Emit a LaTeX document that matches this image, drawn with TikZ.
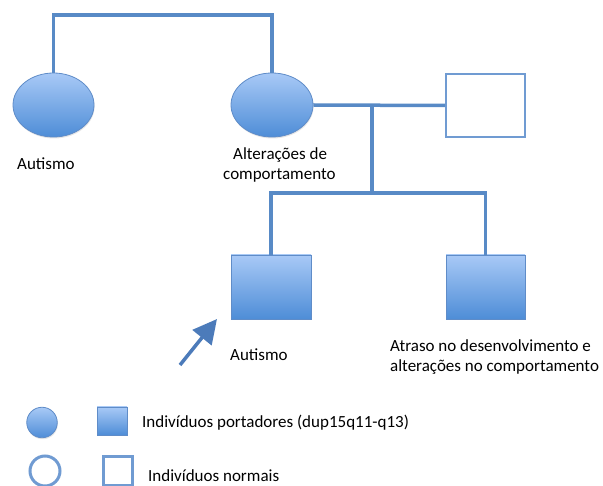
\documentclass[tikz,border=0pt]{standalone}
\usepackage{fontspec}
\setmainfont{Carlito}
\usetikzlibrary{shapes.geometric,arrows.meta,shadows}
\definecolor{lineblue}{RGB}{88,138,198}
\definecolor{edgeblue}{RGB}{95,140,200}
\definecolor{topfill}{RGB}{168,201,246}
\definecolor{botfill}{RGB}{78,141,215}
\definecolor{openblue}{RGB}{112,155,210}
\definecolor{arrowblue}{RGB}{76,123,186}
\tikzset{
  conn/.style={draw=lineblue, line width=3.5pt},
  carrier/.style={draw=edgeblue, line width=0.8pt, top color=topfill, bottom color=botfill,
    drop shadow={opacity=0.2, shadow xshift=0.6pt, shadow yshift=-1.5pt}},
  fem/.style={carrier, ellipse, inner sep=0pt},
  male/.style={carrier, rectangle, inner sep=0pt},
  openbox/.style={draw=openblue, line width=2pt, fill=white, rectangle, inner sep=0pt},
  legopen/.style={draw=openblue, line width=3pt, fill=white, inner sep=0pt},
  lbl/.style={inner sep=0pt, font=\fontsize{17}{20.5}\selectfont, align=left},
}
\begin{document}
\begin{tikzpicture}[x=1pt,y=-1pt]
\useasboundingbox (0,0) rectangle (603,486);
% top generation
\node[fem, minimum width=81pt, minimum height=64pt] (e1) at (53.5,105) {};
\node[fem, minimum width=82pt, minimum height=64pt] (e2) at (272,105) {};
\node[openbox, minimum width=79pt, minimum height=63pt] (sq0) at (485.5,105.5) {};
\coordinate (top) at (160,15);
\coordinate (m) at (372,105);
\coordinate (sib) at (372,193);
% children
\node[male, minimum width=80pt, minimum height=64pt] (s1) at (271,287) {};
\node[male, minimum width=79pt, minimum height=64pt] (s2) at (485.5,287) {};
% connectors
\draw[conn] (e1.north) |- (top) -| (e2.north);
\draw[conn] (e2.east) -- (sq0.west);
\draw[conn] (m) -- (sib);
\draw[conn] (s1.north) |- (sib) -| (s2.north);
% arrow
\coordinate (atail) at (180,365);
\coordinate (ahead) at (217,319);
\draw[draw=arrowblue, line width=3.5pt, -{Triangle[length=24pt,width=24pt]}, color=arrowblue] (atail) -- (ahead);
% labels
\node[lbl, anchor=base west] (l1) at (17,170) {Autismo};
\node[lbl, anchor=base west] (l2a) at (233,160) {Alterações de};
\node[lbl, anchor=base west] (l2b) at (223,180) {comportamento};
\node[lbl, anchor=base west] (l3) at (230,361) {Autismo};
\node[lbl, anchor=base west] (l4a) at (390,352) {Atraso no desenvolvimento e};
\node[lbl, anchor=base west] (l4b) at (390,372) {alterações no comportamento};
% legend
\node[fem, circle, minimum size=30.5pt] (lc1) at (42,422.5) {};
\node[male, minimum width=30pt, minimum height=28pt] (ls1) at (112,421) {};
\node[lbl, anchor=base west] (lt1) at (142,428) {Indivíduos portadores (dup15q11-q13)};
\node[legopen, circle, minimum size=30pt] (lc2) at (45,471) {};
\node[legopen, rectangle, minimum width=29pt, minimum height=29pt] (ls2) at (117.5,471) {};
\node[lbl, anchor=base west] (lt2) at (148,482) {Indivíduos normais};
\end{tikzpicture}
\end{document}
